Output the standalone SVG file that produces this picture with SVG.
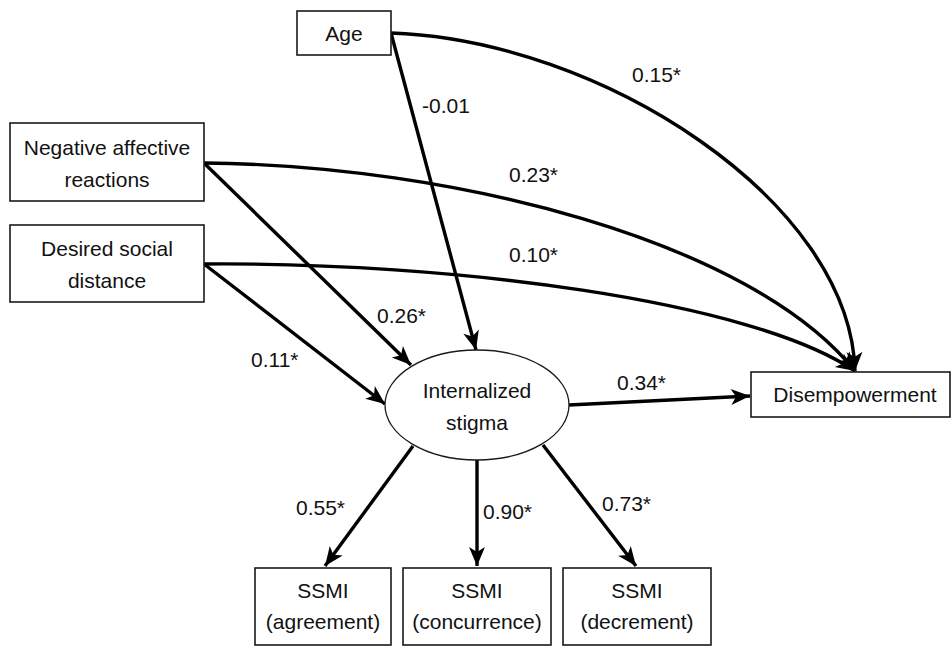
<svg xmlns="http://www.w3.org/2000/svg" width="952" height="646" viewBox="0 0 952 646">
<style>
.box{fill:#fff;stroke:#1a1a1a;stroke-width:1.6}
.t{font-family:"Liberation Sans",Arial,sans-serif;font-size:21px;fill:#111;text-anchor:middle}
.l{font-family:"Liberation Sans",Arial,sans-serif;font-size:21px;fill:#111}
.c{fill:none;stroke:#000;stroke-width:3.4;marker-end:url(#ah)}
</style>
<defs>
<marker id="ah" markerUnits="userSpaceOnUse" markerWidth="22" markerHeight="22" viewBox="0 0 22 22" refX="20" refY="11" orient="auto">
<path d="M1,3 L20,11 L1,19 L6,11 Z" fill="#000"/>
</marker>
</defs>
<rect width="952" height="646" fill="#fff"/>
<g id="connectors">
<path class="c" d="M391,33 C600,40 850,200 855,371"/>
<path class="c" d="M204,163 C450,165 750,240 855,371"/>
<path class="c" d="M204,264 C450,262 750,300 855,371"/>
<path class="c" d="M391,33 L476,350"/>
<path class="c" d="M204,163 L411,365"/>
<path class="c" d="M204,264 L385,404"/>
<path class="c" d="M569,405 L750,396"/>
<path class="c" d="M413,446 L325,566"/>
<path class="c" d="M477,460 L477,566"/>
<path class="c" d="M543,445 L636,566"/>
</g>
<g id="labels">
<text class="l" x="422" y="113">-0.01</text>
<text class="l" x="632" y="82">0.15*</text>
<text class="l" x="509" y="182">0.23*</text>
<text class="l" x="509" y="262">0.10*</text>
<text class="l" x="377" y="323">0.26*</text>
<text class="l" x="251" y="367">0.11*</text>
<text class="l" x="617" y="390">0.34*</text>
<text class="l" x="296" y="515">0.55*</text>
<text class="l" x="483" y="519">0.90*</text>
<text class="l" x="602" y="511">0.73*</text>
</g>
<g id="age">
<rect class="box" x="297" y="11" width="94" height="44"/>
<text class="t" x="344" y="41">Age</text>
</g>
<g id="negative-affective">
<rect class="box" x="10" y="123" width="194" height="78"/>
<text class="t" x="107" y="155">Negative affective</text>
<text class="t" x="107" y="187">reactions</text>
</g>
<g id="desired-social-distance">
<rect class="box" x="10" y="225" width="194" height="77"/>
<text class="t" x="107" y="256">Desired social</text>
<text class="t" x="107" y="288">distance</text>
</g>
<g id="internalized-stigma">
<ellipse cx="477" cy="405" rx="92" ry="55" fill="#fff" stroke="#1a1a1a" stroke-width="1.3"/>
<text class="t" x="477" y="398">Internalized</text>
<text class="t" x="477" y="430">stigma</text>
</g>
<g id="disempowerment">
<rect class="box" x="751" y="372" width="199" height="45"/>
<text class="t" x="855" y="402">Disempowerment</text>
</g>
<g id="ssmi-agreement">
<rect class="box" x="255" y="568" width="136" height="77"/>
<text class="t" x="323" y="598">SSMI</text>
<text class="t" x="323" y="629">(agreement)</text>
</g>
<g id="ssmi-concurrence">
<rect class="box" x="403" y="568" width="148" height="77"/>
<text class="t" x="477" y="598">SSMI</text>
<text class="t" x="477" y="629">(concurrence)</text>
</g>
<g id="ssmi-decrement">
<rect class="box" x="563" y="568" width="148" height="77"/>
<text class="t" x="637" y="598">SSMI</text>
<text class="t" x="637" y="629">(decrement)</text>
</g>
</svg>
